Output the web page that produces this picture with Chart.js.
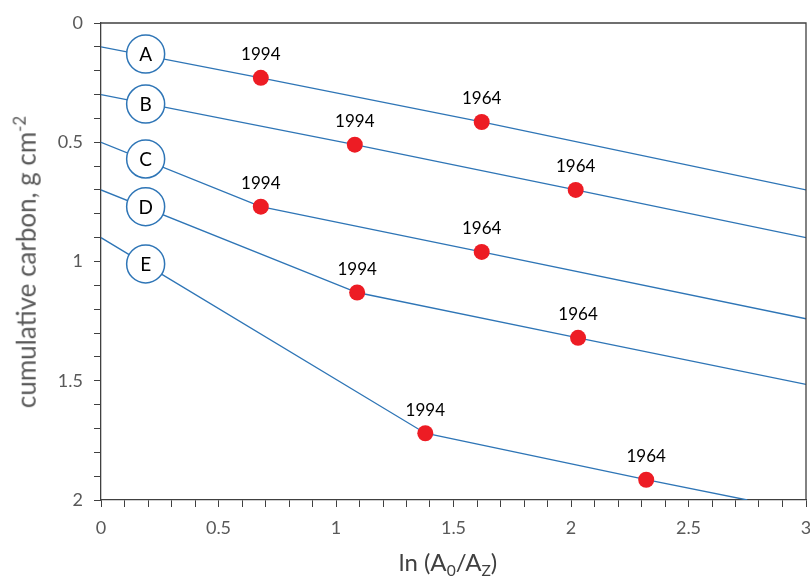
<!DOCTYPE html>
<html>
<head>
<meta charset="utf-8">
<script src="https://cdn.jsdelivr.net/npm/chart.js@4"></script>
<style>
  body { margin: 0; background: #fff; }
  #wrap { position: relative; width: 810px; height: 580px; font-family: Lato, sans-serif; overflow: hidden; }
  #yTitle { position: absolute; left: 25px; top: 262px; transform: translate(-50%, -50%) rotate(-90deg); white-space: nowrap; font-size: 26px; color: #595959; }
  #xTitle { position: absolute; left: 448px; top: 563px; transform: translate(-50%, -50%); white-space: nowrap; font-size: 24px; color: #404040; }
  sub, sup { font-size: 0.65em; }
</style>
</head>
<body>
<div id="wrap">
  <canvas id="chart" width="810" height="580"></canvas>
  <div id="yTitle">cumulative carbon, g cm<sup>-2</sup></div>
  <div id="xTitle">ln (A<sub>0</sub>/A<sub>Z</sub>)</div>
</div>
<script>
// profiles A..E: line start, 1994 and 1964 markers, line end
const seriesNames = ['A', 'B', 'C', 'D', 'E'];
const startX = [0, 0, 0, 0, 0];
const startY = [0.1, 0.3, 0.5, 0.7, 0.9];
const x1994 = [0.68, 1.08, 0.68, 1.09, 1.38];
const y1994 = [0.23, 0.51, 0.77, 1.13, 1.72];
const x1964 = [1.62, 2.02, 1.62, 2.03, 2.32];
const y1964 = [0.415, 0.70, 0.96, 1.32, 1.915];
const endX = [3, 3, 3, 3, 2.75];
const endY = [0.70, 0.90, 1.24, 1.515, 2.0];
// circled letter labels sitting on each line
const labelX = [0.19, 0.19, 0.19, 0.19, 0.19];
const labelY = [0.13, 0.34, 0.57, 0.77, 1.01];
const yearLabels = ['1994', '1964'];

const blue = '#2e75b6';
const red = '#ed1c24';
const axisColor = '#404040';
const tickColor = '#595959';

const datasets = [{
    label: 'labels',
    data: labelY.map((y, i) => ({ x: labelX[i], y })),
    showLine: false,
    pointRadius: 19,
    pointHoverRadius: 19,
    pointBackgroundColor: '#fff',
    pointBorderColor: blue,
    pointBorderWidth: 1.5,
    order: 0
}];

seriesNames.forEach((name, i) => {
    datasets.push({
        label: name,
        data: [
            { x: startX[i], y: startY[i] },
            { x: x1994[i], y: y1994[i] },
            { x: x1964[i], y: y1964[i] },
            { x: endX[i], y: endY[i] }
        ],
        showLine: true,
        borderColor: blue,
        borderWidth: 1.3,
        pointRadius: [0, 8, 8, 0],
        pointHoverRadius: [0, 8, 8, 0],
        pointBackgroundColor: red,
        pointBorderColor: red,
        pointBorderWidth: 0,
        order: 1
    });
});

const halfLabel = v => {
    const d = v * 2;
    return Math.abs(d - Math.round(d)) < 1e-6 ? String(Math.round(d) / 2) : '';
};

const frame = {
    id: 'frame',
    afterDraw(chart) {
        const { ctx, chartArea: a } = chart;
        ctx.save();
        ctx.strokeStyle = axisColor;
        ctx.lineWidth = 1.3;
        ctx.beginPath();
        ctx.moveTo(a.left, a.top);
        ctx.lineTo(a.right, a.top);
        ctx.lineTo(a.right, a.bottom);
        ctx.stroke();
        ctx.restore();
    }
};

const textLabels = {
    id: 'textLabels',
    afterDatasetsDraw(chart) {
        const ctx = chart.ctx;
        ctx.save();
        ctx.fillStyle = '#000';
        ctx.textAlign = 'center';
        ctx.textBaseline = 'middle';
        ctx.font = '17px Lato';
        seriesNames.forEach((name, i) => {
            const pts = chart.getDatasetMeta(i + 1).data;
            ctx.fillText(yearLabels[0], pts[1].x, pts[1].y - 23);
            ctx.fillText(yearLabels[1], pts[2].x, pts[2].y - 23);
        });
        ctx.font = '19px Lato';
        chart.getDatasetMeta(0).data.forEach((p, i) => {
            ctx.fillText(seriesNames[i], p.x, p.y + 1);
        });
        ctx.restore();
    }
};

new Chart(document.getElementById('chart'), {
    type: 'scatter',
    data: { datasets },
    options: {
        responsive: false,
        devicePixelRatio: 1,
        animation: false,
        layout: { autoPadding: false, padding: { top: 23, right: 4, left: 0, bottom: 0 } },
        plugins: {
            legend: { display: false },
            tooltip: { enabled: false }
        },
        scales: {
            x: {
                type: 'linear',
                min: 0,
                max: 3,
                afterFit: s => { s.height = 80; s.paddingLeft = 0; s.paddingRight = 0; },
                ticks: {
                    stepSize: 0.1,
                    autoSkip: false,
                    maxRotation: 0,
                    padding: 10,
                    color: tickColor,
                    font: { family: 'Lato', size: 18 },
                    callback: halfLabel
                },
                grid: { drawOnChartArea: false, drawTicks: true, tickLength: 7, color: axisColor },
                border: { color: axisColor, width: 1.3 }
            },
            y: {
                type: 'linear',
                min: 0,
                max: 2,
                reverse: true,
                afterFit: s => { s.width = 101; s.paddingTop = 0; s.paddingBottom = 0; },
                ticks: {
                    stepSize: 0.1,
                    autoSkip: false,
                    padding: 11,
                    color: tickColor,
                    font: { family: 'Lato', size: 18 },
                    callback: halfLabel
                },
                grid: { drawOnChartArea: false, drawTicks: true, tickLength: 7, color: axisColor },
                border: { color: axisColor, width: 1.3 }
            }
        }
    },
    plugins: [frame, textLabels]
});
</script>
</body>
</html>
